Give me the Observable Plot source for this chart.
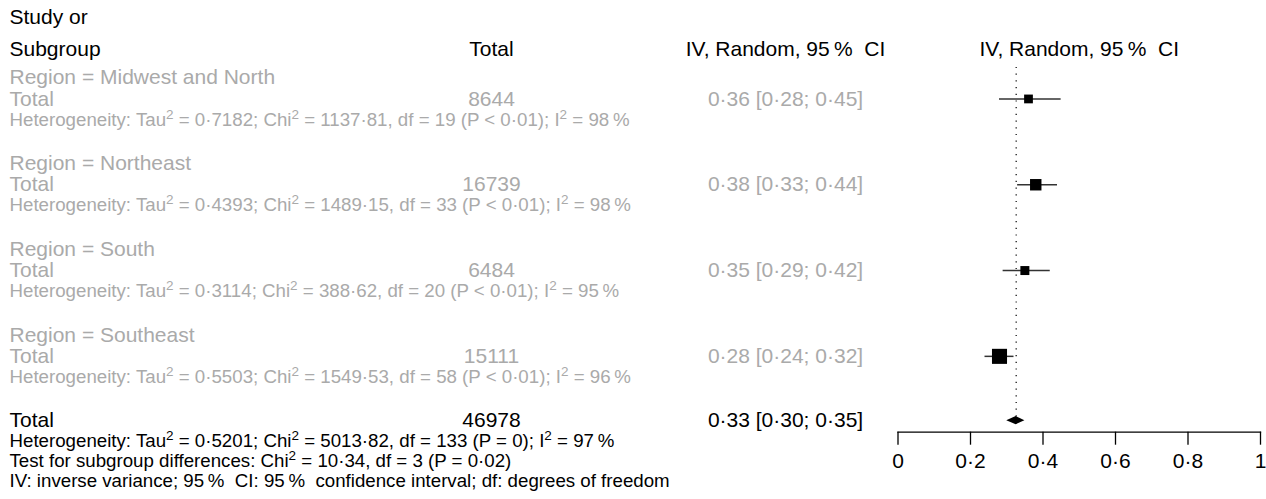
<!DOCTYPE html>
<html><head><meta charset="utf-8">
<script src="https://cdn.jsdelivr.net/npm/d3@7"></script>
<script src="https://cdn.jsdelivr.net/npm/@observablehq/plot@0.6"></script>
<style>
body{margin:0;background:#fff}
#chart svg{font-family:"Liberation Sans",Arial,Helvetica,sans-serif;overflow:visible}
</style>
</head><body><div id="chart"></div>
<script>
// ---- data ----
const regions = ["Midwest and North", "Northeast", "South", "Southeast"];
const totals = ["8644", "16739", "6484", "15111"];
const estimates = [0.36, 0.38, 0.35, 0.28];
const lowers = [0.28, 0.33, 0.29, 0.24];
const uppers = [0.45, 0.44, 0.42, 0.32];
const ciLabels = ["0·36 [0·28; 0·45]", "0·38 [0·33; 0·44]", "0·35 [0·29; 0·42]", "0·28 [0·24; 0·32]"];
const studies = [20, 34, 21, 59];
const tau2 = ["0·7182", "0·4393", "0·3114", "0·5503"];
const chi2 = ["1137·81", "1489·15", "388·62", "1549·53"];
const dfs = ["19", "33", "20", "58"];
const pvals = ["P < 0·01", "P < 0·01", "P < 0·01", "P < 0·01"];
const i2 = ["98", "98", "95", "96"];
const overallTotal = "46978";
const overallEst = 0.326, overallLower = 0.30, overallUpper = 0.35;
const overallLabel = "0·33 [0·30; 0·35]";
const overallHet = "Heterogeneity: Tau^2 = 0·5201; Chi^2 = 5013·82, df = 133 (P = 0); I^2 = 97\u2009%";
const subgroupTest = "Test for subgroup differences: Chi^2 = 10·34, df = 3 (P = 0·02)";
const footnote = "IV: inverse variance; 95\u2009%\u00a0 CI: 95\u2009%\u00a0 confidence interval; df: degrees of freedom";
const headerCI = "IV, Random, 95\u2009%\u00a0 CI";
const tickValues = [0, 0.2, 0.4, 0.6, 0.8, 1];
const tickLabels = ["0", "0·2", "0·4", "0·6", "0·8", "1"];

// ---- layout ----
const W = 1266, H = 499;
const mL = 897.5, mR = 6, axisY = 431.7;
const colLabel = 9, colTotal = 491, colCI = 785;
const grey = "#aaaaaa";
const big = 21, small = 18.7;

const groups = regions.map((r, i) => ({
  region: "Region = " + r, row: i * 4 + 1,
  total: totals[i], est: estimates[i], lo: lowers[i], hi: uppers[i], k: studies[i],
  ci: ciLabels[i],
  het: `Heterogeneity: Tau^2 = ${tau2[i]}; Chi^2 = ${chi2[i]}, df = ${dfs[i]} (${pvals[i]}); I^2 = ${i2[i]}\u2009%`
}));

const txt = (data, o) => Plot.text(data, {frameAnchor: "left", lineAnchor: "middle", ...o});

const diamond = [
  {y: 16 - 0.19, x1: overallEst, x2: overallEst},
  {y: 16, x1: overallLower, x2: overallUpper},
  {y: 16 + 0.19, x1: overallEst, x2: overallEst}
];

const plot = Plot.plot({
  width: W, height: H,
  marginLeft: mL, marginRight: mR, marginBottom: H - axisY, marginTop: 0,
  style: {fontFamily: "'Liberation Sans', Arial, Helvetica, sans-serif", background: "#fff"},
  x: {domain: [0, 1], axis: null},
  y: {domain: [0, 1], range: [77, 98.45], axis: null},
  r: {type: "sqrt", domain: [0, d3.max(studies)], range: [0, 8.5]},
  marks: [
    // headers
    txt(["Study or"], {text: d => d, y: () => -2.8, dx: colLabel - mL, textAnchor: "start", fontSize: big, fill: "#000"}),
    txt(["Subgroup"], {text: d => d, y: () => -1.3, dx: colLabel - mL, textAnchor: "start", fontSize: big, fill: "#000"}),
    txt(["Total"], {text: d => d, y: () => -1.3, dx: colTotal - mL, textAnchor: "middle", fontSize: big, fill: "#000"}),
    txt([headerCI], {text: d => d, y: () => -1.3, dx: colCI - mL, textAnchor: "middle", fontSize: big, fill: "#000"}),
    Plot.text([headerCI], {text: d => d, x: () => 0.5, y: () => -1.3, textAnchor: "middle", fontSize: big, fill: "#000"}),
    // subgroup rows
    txt(groups, {text: "region", y: d => d.row - 1, dx: colLabel - mL, textAnchor: "start", fontSize: big, fill: grey}),
    txt(groups, {text: () => "Total", y: "row", dx: colLabel - mL, textAnchor: "start", fontSize: big, fill: grey}),
    txt(groups, {text: "total", y: "row", dx: colTotal - mL, textAnchor: "middle", fontSize: big, fill: grey}),
    txt(groups, {text: "ci", y: "row", dx: colCI - mL, textAnchor: "middle", fontSize: big, fill: grey}),
    txt(groups, {text: "het", y: d => d.row + 0.96, dx: colLabel - mL, textAnchor: "start", fontSize: small, fill: grey}),
    // overall rows
    txt(["Total"], {text: d => d, y: () => 16, dx: colLabel - mL, textAnchor: "start", fontSize: big, fill: "#000"}),
    txt([overallTotal], {text: d => d, y: () => 16, dx: colTotal - mL, textAnchor: "middle", fontSize: big, fill: "#000"}),
    txt([overallLabel], {text: d => d, y: () => 16, dx: colCI - mL, textAnchor: "middle", fontSize: big, fill: "#000"}),
    txt([overallHet, subgroupTest, footnote], {text: d => d, y: (d, i) => 16.93 + i * 0.93, dx: colLabel - mL, textAnchor: "start", fontSize: small, fill: "#000"}),
    // reference line
    Plot.ruleX([overallEst], {x: d => d, y1: -0.47, y2: 16, stroke: "#000", strokeWidth: 1.2, strokeDasharray: "1.2,5.5"}),
    // CI lines and squares
    Plot.ruleY(groups, {y: "row", x1: "lo", x2: "hi", stroke: "#333", strokeWidth: 1.5}),
    Plot.dot(groups, {x: "est", y: "row", r: "k", symbol: "square", fill: "#000", stroke: "none"}),
    // diamond
    Plot.areaX(diamond, {y: "y", x1: "x1", x2: "x2", fill: "#000", curve: "linear"}),
    // axis
    Plot.frame({anchor: "bottom", stroke: "#000", strokeWidth: 1.3}),
    Plot.axisX({ticks: tickValues, tickFormat: d => tickLabels[tickValues.indexOf(d)], tickSize: 13, tickPadding: 8, fontSize: big, stroke: "#000", strokeWidth: 1.3, fill: "#000"})
  ]
});

// superscripts
plot.querySelectorAll("text").forEach(t => {
  const s = t.textContent;
  if (!s.includes("^2")) return;
  t.textContent = "";
  let shifted = false;
  s.split(/(\^2)/).forEach(p => {
    if (!p) return;
    const ts = document.createElementNS("http://www.w3.org/2000/svg", "tspan");
    if (p === "^2") {
      ts.textContent = "2";
      ts.setAttribute("font-size", "13.5");
      ts.setAttribute("dy", "-7");
      shifted = true;
    } else {
      ts.textContent = p;
      if (shifted) { ts.setAttribute("dy", "7"); shifted = false; }
    }
    t.appendChild(ts);
  });
});
document.getElementById("chart").appendChild(plot);
</script>
</body></html>
